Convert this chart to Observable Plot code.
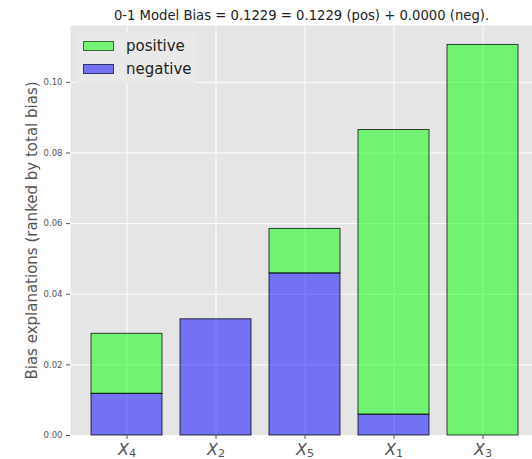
<!DOCTYPE html>
<html>
<head>
<meta charset="utf-8">
<script src="https://cdn.jsdelivr.net/npm/d3@7"></script>
<script src="https://cdn.jsdelivr.net/npm/@observablehq/plot@0.6"></script>
<style>
  html, body { margin: 0; padding: 0; background: #fff; }
  #wrap { position: relative; width: 532px; height: 459px; overflow: hidden; font-family: "DejaVu Sans", sans-serif; }
  #legend { position: absolute; left: 77px; top: 33px; width: 120px; height: 50px; background: #e9e9e9; }
  .key { position: absolute; left: 6px; width: 31px; height: 10px; box-sizing: border-box; border: 1px solid rgba(0,0,0,0.55); }
  .lab { position: absolute; left: 49px; font-size: 15px; color: #222; line-height: 18px; }
</style>
</head>
<body>
<div id="wrap"></div>
<script>
// Per-feature bias contributions, ranked by total bias
const features = ["X4", "X2", "X5", "X1", "X3"];
const negative = [0.0118, 0.0329, 0.0459, 0.0059, 0.0000];
const positive = [0.0170, 0.0000, 0.0126, 0.0806, 0.1106];
const seriesNames = ["positive", "negative"];
const yTicks = [0.00, 0.02, 0.04, 0.06, 0.08, 0.10];
const title = "0-1 Model Bias = 0.1229 = 0.1229 (pos) + 0.0000 (neg).";
const yLabel = "Bias explanations (ranked by total bias)";

// long table: negative part at the bottom, positive stacked on top
const rows = [];
features.forEach((f, i) => { if (negative[i] > 0) rows.push({feature: f, series: "negative", value: negative[i]}); });
features.forEach((f, i) => { if (positive[i] > 0) rows.push({feature: f, series: "positive", value: positive[i]}); });

const colors = {positive: "lime", negative: "blue"};
const axisGray = "#555555";

const chart = Plot.plot({
  width: 532,
  height: 459,
  marginLeft: 70,
  marginRight: 0,
  marginTop: 25,
  marginBottom: 24,
  style: {fontFamily: "DejaVu Sans, sans-serif", background: "transparent"},
  x: {type: "band", domain: features, range: [70, 540], paddingInner: 0.2, paddingOuter: 0.24, label: null},
  y: {domain: [0, 0.1161], label: null},
  color: {domain: ["negative", "positive"], range: [colors.negative, colors.positive]},
  marks: [
    Plot.frame({fill: "#e5e5e5", stroke: null}),
    Plot.gridX({stroke: "white", strokeOpacity: 1, strokeWidth: 1}),
    Plot.gridY(yTicks, {stroke: "white", strokeOpacity: 1, strokeWidth: 1}),
    Plot.barY(rows, Plot.stackY({
      x: "feature", y: "value", fill: "series", fillOpacity: 0.5,
      stroke: "black", strokeOpacity: 0.75, strokeWidth: 1
    })),
    Plot.axisY(yTicks, {tickSize: 4, tickPadding: 4, tickFormat: d3.format(".2f"), fontSize: 8.5, color: axisGray, label: null}),
    Plot.axisX({tickSize: 4, tickPadding: 4, fontSize: 16, color: axisGray, label: null}),
    Plot.text([yLabel], {frameAnchor: "left", dx: -38, rotate: -90, fontSize: 15, fill: axisGray, lineAnchor: "middle", textAnchor: "middle"}),
    Plot.text([title], {frameAnchor: "top", dy: -10, lineAnchor: "middle", fontSize: 13.2, fill: "#222"})
  ]
});

// tick labels as italic X with an upright subscript index
d3.select(chart).selectAll("g[aria-label='x-axis tick label'] text").each(function() {
  const t = d3.select(this);
  const s = t.text();
  t.text("");
  t.append("tspan").attr("font-style", "italic").text(s[0]);
  t.append("tspan").attr("font-size", "0.7em").attr("dy", "0.15em").text(s.slice(1));
});

const wrap = document.getElementById("wrap");
wrap.appendChild(chart);

// legend box inside the panel
const legend = document.createElement("div");
legend.id = "legend";
[["positive", 8], ["negative", 31]].forEach(([name, top]) => {
  const key = document.createElement("div");
  key.className = "key";
  key.style.top = top + "px";
  key.style.background = name === "positive" ? "rgb(115,242,115)" : "rgb(115,115,242)";
  legend.appendChild(key);
  const lab = document.createElement("div");
  lab.className = "lab";
  lab.style.top = (top - 4) + "px";
  lab.textContent = seriesNames[seriesNames.indexOf(name)];
  legend.appendChild(lab);
});
wrap.appendChild(legend);
</script>
</body>
</html>
